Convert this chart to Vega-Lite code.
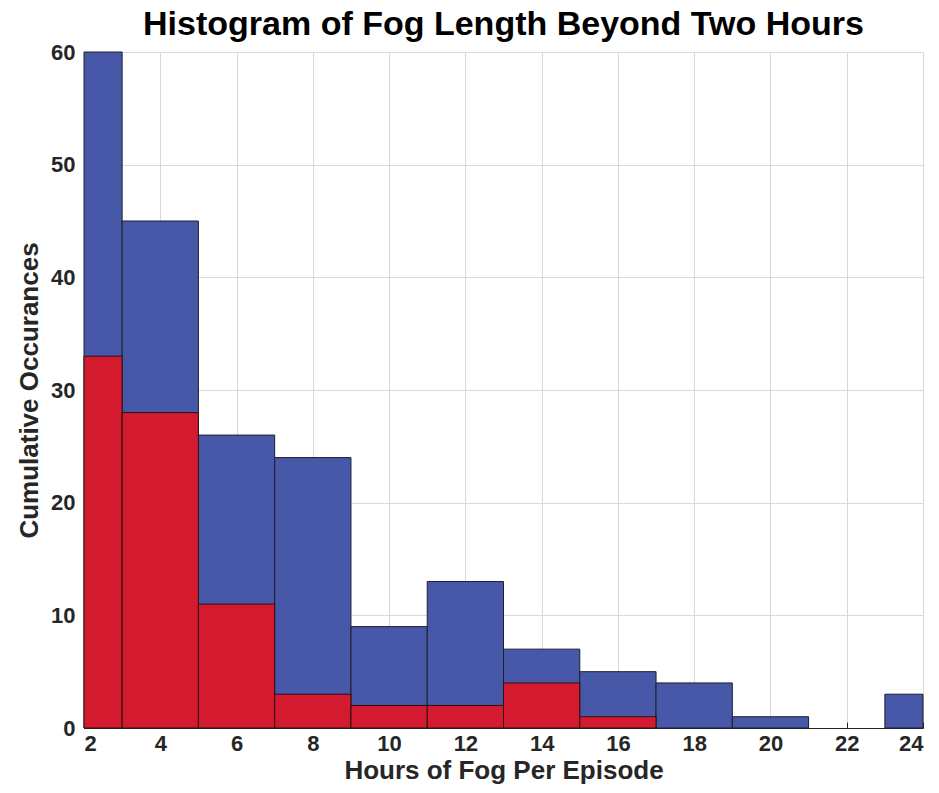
{
  "$schema": "https://vega.github.io/schema/vega-lite/v6.json",
  "width": 839,
  "height": 676,
  "autosize": {"type": "none"},
  "padding": {"left": 84, "top": 52, "right": 16, "bottom": 65},
  "background": "white",
  "title": {
    "text": "Histogram of Fog Length Beyond Two Hours",
    "font": "Liberation Sans",
    "fontSize": 34,
    "fontWeight": "bold",
    "color": "#000000",
    "anchor": "middle",
    "offset": -1
  },
  "config": {
    "view": {"stroke": null},
    "axis": {
      "labelFont": "Liberation Sans",
      "labelFontSize": 22,
      "labelFontWeight": "bold",
      "labelColor": "#262626",
      "titleFont": "Liberation Sans",
      "titleFontSize": 26,
      "titleFontWeight": "bold",
      "titleColor": "#262626",
      "domainColor": "#262626",
      "tickColor": "#262626",
      "tickSize": -6,
      "gridColor": "#d9d9d9",
      "gridWidth": 1
    }
  },
  "data": {
    "values": [
      {"start": 2, "end": 3, "total": 60, "red": 33},
      {"start": 3, "end": 5, "total": 45, "red": 28},
      {"start": 5, "end": 7, "total": 26, "red": 11},
      {"start": 7, "end": 9, "total": 24, "red": 3},
      {"start": 9, "end": 11, "total": 9, "red": 2},
      {"start": 11, "end": 13, "total": 13, "red": 2},
      {"start": 13, "end": 15, "total": 7, "red": 4},
      {"start": 15, "end": 17, "total": 5, "red": 1},
      {"start": 17, "end": 19, "total": 4, "red": 0},
      {"start": 19, "end": 21, "total": 1, "red": 0},
      {"start": 21, "end": 23, "total": 0, "red": 0},
      {"start": 23, "end": 24, "total": 3, "red": 0}
    ]
  },
  "encoding": {
    "x": {
      "field": "start",
      "type": "quantitative",
      "scale": {"domain": [2, 24], "nice": false},
      "axis": {
        "title": "Hours of Fog Per Episode",
        "values": [2, 4, 6, 8, 10, 12, 14, 16, 18, 20, 22, 24],
        "labelPadding": 11,
        "titlePadding": 3
      }
    },
    "x2": {"field": "end"}
  },
  "layer": [
    {
      "mark": {"type": "rect", "color": "#4858a8", "stroke": "#1e1e2e", "strokeWidth": 1},
      "transform": [{"filter": "datum.total > 0"}],
      "encoding": {
        "y": {
          "field": "total",
          "type": "quantitative",
          "scale": {"domain": [0, 60], "nice": false},
          "axis": {
            "title": "Cumulative Occurances",
            "values": [0, 10, 20, 30, 40, 50, 60],
            "labelPadding": 15,
            "titlePadding": 8
          }
        },
        "y2": {"datum": 0}
      }
    },
    {
      "mark": {"type": "rect", "color": "#d41a2e", "stroke": "#2a1212", "strokeWidth": 1},
      "transform": [{"filter": "datum.red > 0"}],
      "encoding": {
        "y": {"field": "red", "type": "quantitative"},
        "y2": {"datum": 0}
      }
    }
  ]
}
